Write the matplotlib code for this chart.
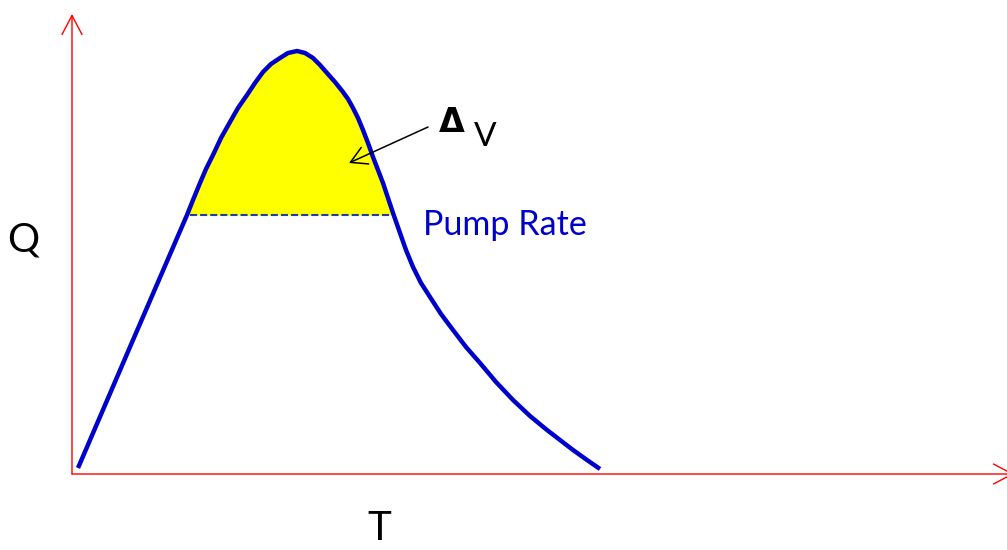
import matplotlib
matplotlib.use("Agg")
import matplotlib.pyplot as plt
import numpy as np

# hydrograph (T across, Q up, origin at the axes corner)
T = [6, 61, 115, 121, 128, 134, 141, 149, 158, 166,
     175, 183, 191, 199, 208, 216, 225, 233, 241, 248,
     255, 263, 271, 276, 281, 286, 291, 296, 301, 306,
     311, 316, 321, 328, 334, 341, 349, 358, 369, 381,
     394, 408, 424, 441, 458, 475, 488, 501, 515, 528]
Q = [6, 134, 259, 274, 291, 305, 319, 336, 352, 366,
     379, 391, 402, 410, 416, 421, 423, 421, 416, 409,
     401, 392, 382, 375, 366, 356, 344, 331, 317, 304,
     291, 276, 261, 241, 224, 207, 191, 177, 160, 144,
     127, 111, 92, 74, 58, 44, 34, 24, 14, 5]
pump_rate = 259
pump_T = [118, 318]

T = np.array(T)
Q = np.array(Q)

plt.rcParams["font.family"] = ["Lato", "DejaVu Sans"]

fig = plt.figure(figsize=(10.07, 5.5), dpi=100)
ax = fig.add_axes([0, 0, 1, 1])
ax.set_xlim(-72, 935)
ax.set_ylim(-76, 474)
ax.axis("off")

# red axes with open arrow heads
axis_arrow = dict(arrowstyle="->, head_length=13.7, head_width=7.2",
                  mutation_scale=1, color="red", lw=1.0, shrinkA=0, shrinkB=0)
ax.annotate("", xy=(0, 460), xytext=(0, 0), arrowprops=axis_arrow,
            annotation_clip=False)
ax.annotate("", xy=(942, 0), xytext=(0, 0), arrowprops=axis_arrow,
            annotation_clip=False)

# storage volume above the pump rate
ax.fill_between(T, Q, pump_rate, where=Q >= pump_rate, interpolate=True,
                color="#FFFF00", lw=0)
ax.plot(pump_T, [pump_rate, pump_rate], color="#1F3FA8", lw=1.5,
        linestyle=(0, (3.4, 1.45)))
ax.plot(T, Q, color="#0000CC", lw=3.2, solid_joinstyle="round",
        solid_capstyle="butt")

ax.annotate("", xy=(277, 311), xytext=(356, 347),
            arrowprops=dict(arrowstyle="->, head_length=11.5, head_width=6.5",
                            mutation_scale=1, color="black", lw=1.1,
                            shrinkA=0, shrinkB=0))
ax.text(380, 352, "Δ", fontsize=24, fontweight="bold", ha="center",
        va="center", family=["DejaVu Sans"])
ax.text(413, 337, "V", fontsize=24, ha="center", va="center")

ax.text(351, 239, "Pump Rate", fontsize=24.5, color="#0000CC", va="baseline")
ax.text(-49, 234, "Q", fontsize=29, ha="center", va="center")
ax.text(307, -66, "T", fontsize=29, ha="center", va="baseline")

fig.savefig("out.png", dpi=100)
